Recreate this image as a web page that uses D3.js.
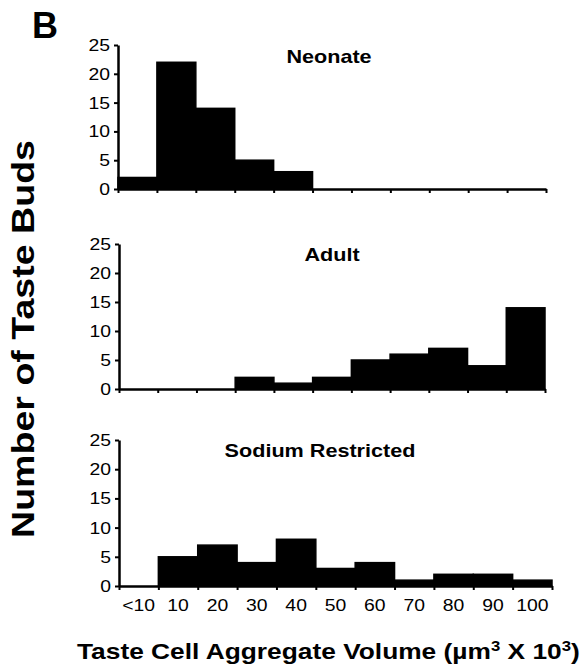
<!DOCTYPE html>
<html>
<head>
<meta charset="utf-8">
<script src="https://cdn.jsdelivr.net/npm/d3@7"></script>
<style>
  body { margin: 0; background: #fff; }
  text { font-family: "Liberation Sans", Arial, sans-serif; fill: #000; }
</style>
</head>
<body>
<script>
// bins of taste cell aggregate volume (um3 x 10^3)
var categories = ["<10", "10", "20", "30", "40", "50", "60", "70", "80", "90", "100"];
// number of taste buds per bin
var neonate = [2, 22, 14, 5, 3, 0, 0, 0, 0, 0, 0];
var adult = [0, 0, 0, 2, 1, 2, 5, 6, 7, 4, 14];
var sodium = [0, 5, 7, 4, 8, 3, 4, 1, 2, 2, 1];
var yTicks = [0, 5, 10, 15, 20, 25];
var panelNames = ["Neonate", "Adult", "Sodium Restricted"];

var series = [neonate, adult, sodium];

// layout of the three panels (pixels)
var panels = [
  { top: 45, bottom: 189, left: 118, right: 546, tx: 329, ty: 63 },
  { top: 244, bottom: 389, left: 119, right: 545, tx: 332, ty: 261 },
  { top: 440, bottom: 586, left: 119, right: 552, tx: 320, ty: 457 }
]

var svg = d3.select("body")
  .append("svg")
  .attr("width", 583)
  .attr("height", 668)

// the scanned text is wider than plain Arial
var sx = 1.14

panels.forEach(function (p, i) {
  var g = svg.append("g")

  var x = d3.scaleBand()
    .domain(categories)
    .range([p.left, p.right])
    .padding(0)

  // bin edges for the small ticks under the axis
  var xe = d3.scaleLinear()
    .domain([0, categories.length])
    .range([p.left, p.right])

  var y = d3.scaleLinear()
    .domain([0, 25])
    .range([p.bottom, p.top])

  // bars
  g.selectAll("rect")
    .data(series[i])
    .enter()
    .append("rect")
    .attr("x", function (d, j) { return x(categories[j]); })
    .attr("y", function (d) { return y(d); })
    .attr("width", x.bandwidth())
    .attr("height", function (d) { return y(0) - y(d); })
    .style("fill", "#000")
    .style("stroke", "#000")
    .style("stroke-width", 1.5)

  // y axis
  var ya = g.append("g")
    .attr("transform", "translate(" + p.left + ",0)")
    .call(d3.axisLeft(y).tickValues(yTicks).tickSize(4).tickSizeOuter(0).tickPadding(3))
  ya.select(".domain").style("stroke-width", 2.5)
  ya.selectAll(".tick line").style("stroke-width", 2)
  ya.selectAll("text")
    .style("font-size", "17px")
    .attr("transform", "scale(" + sx + ",1)")

  // x axis line and bin edge ticks
  var xa = g.append("g")
    .attr("transform", "translate(0," + y(0) + ")")
    .call(d3.axisBottom(xe).ticks(categories.length).tickSize(4).tickSizeOuter(0).tickFormat(""))
  xa.select(".domain").style("stroke-width", 2.5)
  xa.selectAll(".tick line").style("stroke-width", 2)

  // category labels only on the last panel
  if (i === panels.length - 1) {
    var la = g.append("g")
      .attr("transform", "translate(0," + y(0) + ")")
      .call(d3.axisBottom(x).tickSize(0).tickPadding(13))
    la.select(".domain").remove()
    la.selectAll("text")
      .style("font-size", "17px")
      .attr("transform", "scale(" + sx + ",1)")
  }

  // panel title
  svg.append("text")
    .attr("transform", "translate(" + p.tx + "," + p.ty + ") scale(1.2,1)")
    .attr("text-anchor", "middle")
    .style("font-size", "18px")
    .style("font-weight", "bold")
    .text(panelNames[i])
})

// panel letter
svg.append("text")
  .attr("x", 32)
  .attr("y", 38)
  .style("font-size", "36px")
  .style("font-weight", "bold")
  .text("B")

// y title, stretched to the length seen in the figure
var yt = svg.append("text")
  .attr("text-anchor", "middle")
  .style("font-size", "31px")
  .style("font-weight", "bold")
  .text("Number of Taste Buds")
var ky = 398 / yt.node().getComputedTextLength()
yt.attr("transform", "translate(34,339) rotate(-90) scale(" + ky + ",1)")

// x title with superscripts
var xt = svg.append("text")
  .style("font-size", "22px")
  .style("font-weight", "bold")
xt.append("tspan").text("Taste Cell Aggregate Volume (\u00b5m")
xt.append("tspan").attr("dy", -8).style("font-size", "14px").text("3")
xt.append("tspan").attr("dy", 8).text(" X 10")
xt.append("tspan").attr("dy", -8).style("font-size", "14px").text("3")
xt.append("tspan").attr("dy", 8).text(")")
var kx = 503 / xt.node().getComputedTextLength()
xt.attr("transform", "translate(77,659) scale(" + kx + ",1)")
</script>
</body>
</html>
